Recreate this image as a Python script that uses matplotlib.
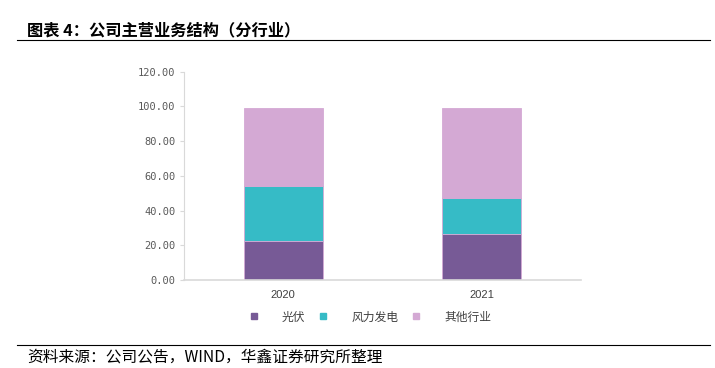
import numpy as np
import matplotlib.pyplot as plt
from matplotlib.lines import Line2D

plt.rcParams['font.family'] = ['Noto Sans CJK SC', 'DejaVu Sans']

# data (share of revenue, %)
years = ['2020', '2021']
series_names = ['光伏', '风力发电', '其他行业']
pv = [22.6, 26.7]
wind = [31.6, 20.6]
other = [45.1, 52.0]
colors = ['#775A96', '#36BBC6', '#D4A9D4']
yticks = [0, 20, 40, 60, 80, 100, 120]

fig = plt.figure(figsize=(7.15, 3.68), dpi=100)
ax = fig.add_axes([0.2573, 0.2391, 0.5553, 0.5661])

x = np.arange(len(years))
bottom = np.zeros(len(years))
for vals, c in zip([pv, wind, other], colors):
    ax.bar(x, vals, width=0.4, bottom=bottom, color=c, edgecolor='#D4A9D4', linewidth=0.6)
    bottom += np.array(vals)

ax.set_xlim(-0.5, 1.5)
ax.set_ylim(0, 120)
ax.set_yticks(yticks)
ax.set_yticklabels([f'{v:.2f}' for v in yticks], family='DejaVu Sans Mono', fontsize=7.5, color='#595959')
ax.set_xticks(x)
ax.set_xticklabels(years, family='Liberation Sans', fontsize=8, color='#404040')
ax.tick_params(axis='x', length=0, pad=7)
ax.tick_params(axis='y', length=3, color='#D9D9D9', pad=3)
for s in ['top', 'right']:
    ax.spines[s].set_visible(False)
ax.spines['left'].set_color('#D9D9D9')
ax.spines['bottom'].set_color('#D9D9D9')
ax.spines['bottom'].set_linewidth(1.2)

handles = [Line2D([], [], marker='s', linestyle='none', markersize=4, color=c) for c in colors]
ax.legend(handles, series_names, loc='center', bbox_to_anchor=(0.46, -0.178), ncol=3,
          frameon=False, fontsize=8.5, handletextpad=1.4, columnspacing=0.5,
          labelcolor='#404040')

# title and source
fig.text(27 / 715, 1 - 30 / 368, '图表 4：公司主营业务结构（分行业）', fontsize=11.7,
         fontweight='bold', va='center', ha='left')
fig.add_artist(Line2D([17 / 715, 710 / 715], [1 - 40 / 368] * 2, color='black', linewidth=0.8))
fig.add_artist(Line2D([17 / 715, 710 / 715], [1 - 345 / 368] * 2, color='black', linewidth=0.8))
fig.text(27 / 715, 1 - 357 / 368, '资料来源：公司公告，WIND，华鑫证券研究所整理', fontsize=11.3,
         va='center', ha='left')

fig.savefig('out.png', dpi=100)
